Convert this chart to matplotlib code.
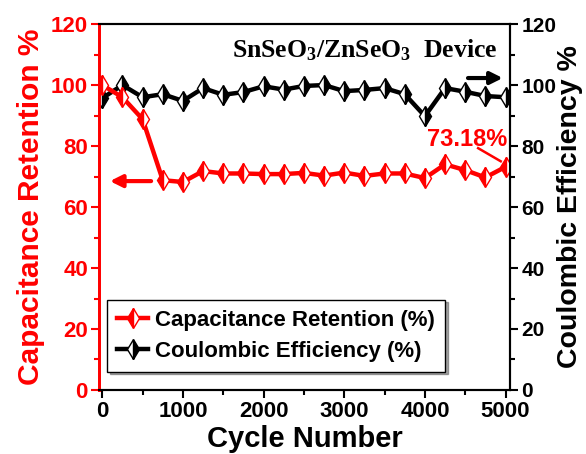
import matplotlib.pyplot as plt
from matplotlib.ticker import MultipleLocator

plt.rcParams['font.family'] = ['Liberation Sans', 'DejaVu Sans']
plt.rcParams['font.weight'] = 'bold'
plt.rcParams['mathtext.fontset'] = 'custom'
plt.rcParams['mathtext.rm'] = 'Liberation Serif'
plt.rcParams['mathtext.bf'] = 'Liberation Serif:bold'

cycles = [0, 250, 500, 750, 1000, 1250, 1500, 1750, 2000, 2250, 2500,
          2750, 3000, 3250, 3500, 3750, 4000, 4250, 4500, 4750, 5000]
retention = [100, 96, 88.8, 68.8, 68.2, 71.8, 71, 71, 70.8, 70.8, 71.2,
             70.3, 71.3, 70.2, 71, 71, 69.5, 74, 72.1, 69.7, 73.18]
efficiency = [95.7, 100, 96, 97, 94.8, 99, 96.8, 97.7, 99.6, 98.5, 99.7,
              100, 98, 98.4, 99, 97, 89.8, 99, 97.8, 96.4, 96]

red = '#ff0000'

fig = plt.figure(figsize=(5.86, 4.54), dpi=100)
ax = fig.add_axes([0.169, 0.141, 0.702, 0.806])
ax2 = ax.twinx()

l1, = ax.plot(cycles, retention, '-d', color=red, lw=3.2, ms=10,
              fillstyle='left', markerfacecoloralt='white',
              markeredgecolor=red, markeredgewidth=1.0,
              label='Capacitance Retention (%)')
l2, = ax2.plot(cycles, efficiency, '-d', color='black', lw=3.2, ms=10,
               fillstyle='right', markerfacecoloralt='white',
               markeredgecolor='black', markeredgewidth=1.0,
               label='Coulombic Efficiency (%)')

ax.set_xlim(-40, 5060)
ax.set_ylim(0, 120)
ax2.set_ylim(0, 120)

ax.xaxis.set_major_locator(MultipleLocator(1000))
ax.xaxis.set_minor_locator(MultipleLocator(500))
for a in (ax, ax2):
    a.yaxis.set_major_locator(MultipleLocator(20))
    a.yaxis.set_minor_locator(MultipleLocator(10))

ax.tick_params(axis='x', which='both', direction='out', top=False,
               labelsize=16, width=1.5, colors='black', pad=2)
ax.tick_params(axis='x', which='major', length=6)
ax.tick_params(axis='x', which='minor', length=3.5)
ax.tick_params(axis='y', which='both', direction='out', labelsize=16,
               width=1.5, colors=red, pad=2)
ax.tick_params(axis='y', which='major', length=6)
ax.tick_params(axis='y', which='minor', length=3.5)
ax2.tick_params(axis='y', which='both', direction='out', labelsize=15,
                width=1.5, colors='black', pad=2)
ax2.tick_params(axis='y', which='major', length=6)
ax2.tick_params(axis='y', which='minor', length=3.5)

for a in (ax, ax2):
    for s in a.spines.values():
        s.set_linewidth(1.5)
    a.spines['left'].set_color(red)
    a.spines['left'].set_linewidth(2)

ax.set_xlabel('Cycle Number', fontsize=21, fontweight='bold', labelpad=2)
ax.set_ylabel('Capacitance Retention %', fontsize=21.5, fontweight='bold',
              color=red, labelpad=4)
ax2.set_ylabel('Coulombic Efficiency %', fontsize=20.5, fontweight='bold',
               rotation=90, labelpad=0)

# direction arrows for each axis
ax.annotate('', xy=(60, 68.5), xytext=(640, 68.5),
            arrowprops=dict(arrowstyle='-|>', color=red, lw=3,
                            mutation_scale=18))
ax2.annotate('', xy=(5000, 102.3), xytext=(4500, 102.3),
             arrowprops=dict(arrowstyle='-|>', color='black', lw=3,
                             mutation_scale=18))

ax.text(4520, 82, '%.2f%%' % retention[-1], color=red, fontsize=17,
        fontweight='bold', ha='center', va='center')
ax.plot([4660, 4940], [79.3, 75], color=red, lw=1.8)

ax.text(4900, 111.5, r'$\mathbf{SnSeO_3/ZnSeO_3}$  Device',
        family=['Liberation Serif'], fontsize=18.5, fontweight='bold',
        ha='right', va='center')

leg = ax.legend(handles=[l1, l2], loc='lower left',
                bbox_to_anchor=(0.02, 0.05), fontsize=16,
                frameon=True, fancybox=False, shadow=True,
                edgecolor='black', handlelength=1.4, handletextpad=0.3,
                borderpad=0.45, labelspacing=0.45, borderaxespad=0)
leg.get_frame().set_linewidth(1.0)
ax.set_zorder(ax2.get_zorder() + 1)
ax.patch.set_visible(False)

fig.savefig('out.png', dpi=100, facecolor='white')
